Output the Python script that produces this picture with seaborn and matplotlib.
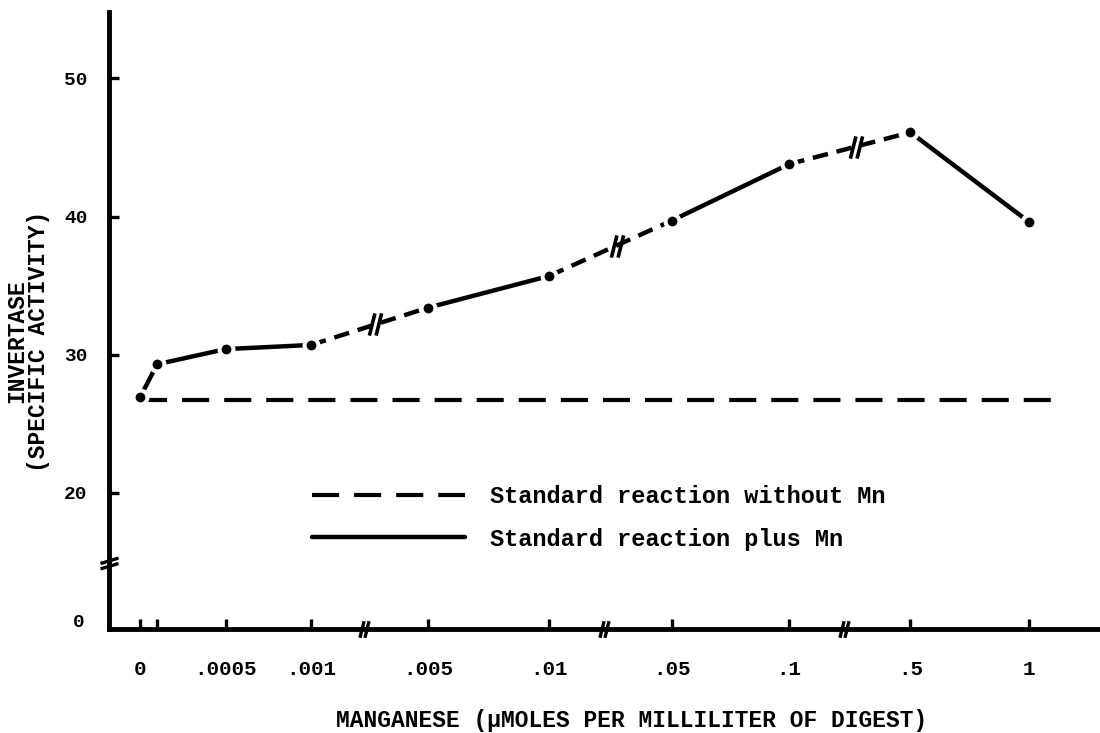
import numpy as np
import pandas as pd
import matplotlib
matplotlib.use("Agg")
import matplotlib.pyplot as plt
from matplotlib.path import Path
from matplotlib.lines import Line2D
import seaborn as sns

# --- data -------------------------------------------------------------
mn_conc = [0, 0.0001, 0.0005, 0.001, 0.005, 0.01, 0.05, 0.1, 0.5, 1.0]
activity_plus_mn = [26.9, 29.3, 30.4, 30.7, 33.4, 35.7, 39.7, 43.8, 46.1, 39.6]
activity_without_mn = 26.7

tick_conc = [0, 0.0001, 0.0005, 0.001, 0.005, 0.01, 0.05, 0.1, 0.5, 1.0]
tick_labels = ["0", "", ".0005", ".001", ".005", ".01", ".05", ".1", ".5", "1"]
y_ticks = [20, 30, 40, 50]

legend_labels = ["Standard reaction without Mn", "Standard reaction plus Mn"]
x_title = "MANGANESE (\u00b5MOLES PER MILLILITER OF DIGEST)"
y_title = "INVERTASE\n(SPECIFIC ACTIVITY)"

# --- broken x scale: each block is drawn linearly, blocks separated by breaks
X_BLOCKS = [
    (0.0, 0.001, 0.00, 1.425),
    (0.005, 0.01, 2.40, 3.41),
    (0.05, 0.1, 4.43, 5.41),
    (0.5, 1.0, 6.42, 7.41),
]


def block_of(c):
    for i, (lo, hi, _, _) in enumerate(X_BLOCKS):
        if lo - 1e-12 <= c <= hi + 1e-12:
            return i
    raise ValueError(c)


def to_pos(c):
    lo, hi, p0, p1 = X_BLOCKS[block_of(c)]
    return p0 + (c - lo) / (hi - lo) * (p1 - p0)


# --- styling ----------------------------------------------------------
sns.set_theme(style="white")
FONT = ["Liberation Mono", "DejaVu Sans Mono"]
plt.rcParams["font.family"] = FONT
plt.rcParams["font.weight"] = "bold"
for key in ("text.color", "axes.labelcolor", "xtick.color", "ytick.color",
            "axes.edgecolor"):
    plt.rcParams[key] = "black"

fig = plt.figure(figsize=(11, 7.33), dpi=100)
ax = fig.add_axes([0.0988, 0.1419, 0.9012, 0.8422])

x_lo, x_hi = -0.261, 8.0
y_lo, y_hi = 10.13, 54.84

# pieces of the curve: solid within a block, dashed across a break
rows = []
for i in range(len(mn_conc) - 1):
    kind = "solid" if block_of(mn_conc[i]) == block_of(mn_conc[i + 1]) else "dashed"
    for j in (i, i + 1):
        rows.append({"piece": i, "pos": to_pos(mn_conc[j]),
                     "activity": activity_plus_mn[j], "kind": kind})
curve = pd.DataFrame(rows)

sns.lineplot(data=curve, x="pos", y="activity", units="piece", estimator=None,
             style="kind", dashes={"solid": "", "dashed": (3.5, 2.0)},
             color="black", linewidth=3.2, legend=False, sort=False, ax=ax,
             zorder=2)

# control line without manganese
base_line = ax.hlines(activity_without_mn, to_pos(0), to_pos(1.0) + 0.21,
                      colors="black", linewidth=3.0, zorder=1)
base_line.set_dashes([(0, (6.5, 3.6))])

# data points
pts = pd.DataFrame({"pos": [to_pos(c) for c in mn_conc], "activity": activity_plus_mn})
sns.scatterplot(data=pts, x="pos", y="activity", s=100, color="black",
                edgecolor="white", linewidth=2.9, ax=ax, zorder=3, legend=False)

# break marks
x_slash = Path([(-0.55, -1), (-0.05, 1), (0.05, -1), (0.55, 1)],
               [Path.MOVETO, Path.LINETO, Path.MOVETO, Path.LINETO])
y_slash = Path([(-1, -0.6), (1, 0.0), (-1, 0.0), (1, 0.6)],
               [Path.MOVETO, Path.LINETO, Path.MOVETO, Path.LINETO])

curve_breaks_x, curve_breaks_y, axis_breaks_x = [], [], []
for i in range(len(mn_conc) - 1):
    if block_of(mn_conc[i]) != block_of(mn_conc[i + 1]):
        p0, p1 = to_pos(mn_conc[i]), to_pos(mn_conc[i + 1])
        a0, a1 = activity_plus_mn[i], activity_plus_mn[i + 1]
        t = 0.55
        curve_breaks_x.append(p0 + t * (p1 - p0))
        curve_breaks_y.append(a0 + t * (a1 - a0))
        axis_breaks_x.append(p0 + 0.45 * (p1 - p0))

ax.plot(curve_breaks_x, curve_breaks_y, ls="none", marker=x_slash, ms=16,
        mew=2.6, color="black", zorder=4)
ax.plot(axis_breaks_x, [y_lo] * len(axis_breaks_x), ls="none", marker=x_slash,
        ms=12, mew=2.4, color="black", clip_on=False, zorder=5)
ax.plot([x_lo], [14.9], ls="none", marker=y_slash, ms=13, mew=2.4,
        color="black", clip_on=False, zorder=5)

# axes
ax.set_xlim(x_lo, x_hi)
ax.set_ylim(y_lo, y_hi)
for side in ("top", "right"):
    ax.spines[side].set_visible(False)
for side in ("left", "bottom"):
    ax.spines[side].set_linewidth(3.5)
    ax.spines[side].set_color("black")

ax.set_xticks([to_pos(c) for c in tick_conc])
ax.set_xticklabels(tick_labels, fontsize=15, fontweight="bold", family=FONT)
ax.set_yticks(y_ticks)
ax.set_yticklabels([str(v) for v in y_ticks], fontsize=14, fontweight="bold",
                   family=FONT)
ax.tick_params(axis="x", bottom=True, direction="in", length=7, width=2.4,
               pad=22, colors="black", labelcolor="black")
ax.tick_params(axis="y", left=True, direction="in", length=7, width=2.4,
               pad=15, colors="black", labelcolor="black")
ax.text(x_lo, 10.63, "0  ", transform=ax.transData, ha="right", va="center",
        fontsize=14, fontweight="bold", family=FONT, color="black")
ax.set_xlabel("")
ax.set_ylabel("")

# legend
handles = [
    Line2D([], [], color="black", lw=3.0, dashes=(6.5, 3.6)),
    Line2D([], [], color="black", lw=3.2),
]
leg = ax.legend(handles, legend_labels, loc="upper left",
                bbox_to_anchor=(0.205, 0.233), frameon=False, borderpad=0,
                borderaxespad=0, handlelength=6.5, handletextpad=1.05,
                labelspacing=0.82,
                prop={"family": FONT, "weight": "bold", "size": 17})
for t in leg.get_texts():
    t.set_color("black")

# axis titles
fig.text(0.574, 1 - 720 / 733, x_title, ha="center", va="center",
         fontsize=16.5, fontweight="bold", family=FONT, color="black")
fig.text(0.025, 1 - 341 / 733, y_title, ha="center", va="center", rotation=90,
         multialignment="center", linespacing=0.95, fontsize=16.5,
         fontweight="bold", family=FONT, color="black")

fig.savefig("out.png", dpi=100, facecolor="white")
